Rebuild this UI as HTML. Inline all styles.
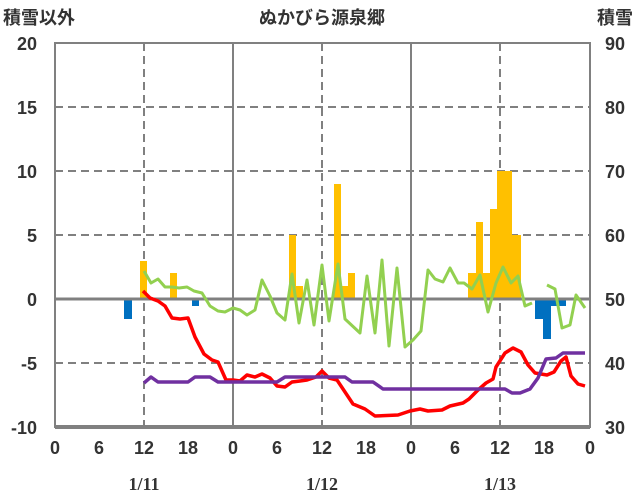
<!DOCTYPE html><html><head><meta charset="utf-8"><style>body{margin:0;background:#fff}svg{display:block}text{font-family:"Liberation Sans","Noto Sans CJK JP",sans-serif;font-weight:bold;fill:#333}</style></head><body>
<svg width="636" height="501" viewBox="0 0 636 501" xmlns="http://www.w3.org/2000/svg">
<rect width="636" height="501" fill="#fff"/>
<g stroke="#808080" stroke-width="2" stroke-dasharray="8,5">
<line x1="55" y1="107" x2="590" y2="107"/><line x1="55" y1="171" x2="590" y2="171"/><line x1="55" y1="235" x2="590" y2="235"/><line x1="55" y1="363" x2="590" y2="363"/>
<line x1="144" y1="43" x2="144" y2="427"/><line x1="322" y1="43" x2="322" y2="427"/><line x1="500" y1="43" x2="500" y2="427"/>
</g>
<g stroke="#808080" stroke-width="2"><line x1="233" y1="43" x2="233" y2="427"/><line x1="411" y1="43" x2="411" y2="427"/></g>
<g fill="#FFC000">
<rect x="140" y="261" width="7" height="38"/><rect x="170" y="273" width="7" height="26"/>
<rect x="289" y="235" width="7" height="64"/><rect x="296" y="286" width="7" height="13"/>
<rect x="334" y="184" width="7" height="115"/><rect x="341" y="286" width="7" height="13"/><rect x="348" y="273" width="7" height="26"/>
<rect x="468" y="273" width="8" height="26"/><rect x="476" y="222" width="7" height="77"/><rect x="483" y="273" width="7" height="26"/><rect x="490" y="209" width="7" height="90"/><rect x="497" y="171" width="15" height="128"/><rect x="512" y="235" width="9" height="64"/>
</g>
<g fill="#0070C0">
<rect x="124" y="299" width="8" height="20"/><rect x="192" y="299" width="7" height="7"/>
<rect x="535" y="299" width="8" height="20"/><rect x="543" y="299" width="8" height="40"/><rect x="551" y="299" width="15" height="7"/>
</g>
<line x1="55" y1="299" x2="590" y2="299" stroke="#808080" stroke-width="3"/>
<rect x="55" y="43" width="535" height="384" fill="none" stroke="#808080" stroke-width="2"/>
<line x1="55" y1="427" x2="590" y2="427" stroke="#808080" stroke-width="4"/>
<g fill="none" stroke-width="3" stroke-linejoin="round">
<polyline stroke="#92D050" points="144,271 151,283 158,279 165,287 172,287 179,288 187,287 194,291 202,293 210,306 218,311 225,312 233,308 240,310 247,315 255,310 262,280 270,296 277,313 285,320 292,274 299,323 307,280 314,325 322,265 329,321 338,264 345,319 360,333 367,276 375,333 382,260 389,346 397,268 405,347 413,340 421,331 428,270 435,279 443,282 450,268 458,283 464,283 472,289 480,275 488,312 496,283 503,267 511,283 518,276 525,306 532,303"/>
<polyline stroke="#92D050" points="547,285 555,289 562,328 570,325 576,295 585,308"/>
<polyline stroke="#FF0000" stroke-width="3.5" points="143,291 150,298 158,301 165,306 172,318 180,319 188,318 195,337 204,354 212,360 218,362 226,380 233,380 240,381 247,375 255,377 262,374 270,378 277,386 285,387 292,382 300,381 307,380 316,377 322,371 329,378 337,380 353,404 365,409 375,416 398,415 410,411 420,409 428,411 442,410 450,406 463,403 469,399 478,390 486,383 493,379 496,367 505,353 513,348 521,352 528,365 535,373 547,375 554,372 561,361 566,357 571,376 578,384 585,386"/>
<polyline stroke="#7030A0" stroke-width="3.5" points="144,383 151,377 158,382 188,382 195,377 210,377 218,382 277,382 285,377 345,377 352,382 373,382 383,389 505,389 512,393 520,393 530,389 538,378 546,359 556,358 563,353 585,353"/>
</g>
<g font-size="18" text-anchor="end">
<text x="37" y="50">20</text><text x="37" y="114">15</text><text x="37" y="178">10</text><text x="37" y="242">5</text><text x="37" y="306">0</text><text x="37" y="370">-5</text><text x="37" y="434">-10</text>
</g>
<g font-size="18" text-anchor="start">
<text x="605" y="50">90</text><text x="605" y="114">80</text><text x="605" y="178">70</text><text x="605" y="242">60</text><text x="605" y="306">50</text><text x="605" y="370">40</text><text x="605" y="434">30</text>
</g>
<g font-size="18" text-anchor="middle">
<text x="55" y="454">0</text><text x="99" y="454">6</text><text x="144" y="454">12</text><text x="188" y="454">18</text><text x="233" y="454">0</text><text x="277" y="454">6</text><text x="322" y="454">12</text><text x="366" y="454">18</text><text x="411" y="454">0</text><text x="455" y="454">6</text><text x="500" y="454">12</text><text x="544" y="454">18</text><text x="590" y="454">0</text>
<text x="144" y="490" font-weight="normal" style="font-family:'Liberation Serif',serif">1/11</text><text x="322" y="490" font-weight="normal" style="font-family:'Liberation Serif',serif">1/12</text><text x="500" y="490" font-weight="normal" style="font-family:'Liberation Serif',serif">1/13</text>
<text x="322" y="24">ぬかびら源泉郷</text>
</g>
<text x="3" y="24" font-size="18">積雪以外</text>
<text x="633" y="24" font-size="18" text-anchor="end">積雪</text>
</svg></body></html>
